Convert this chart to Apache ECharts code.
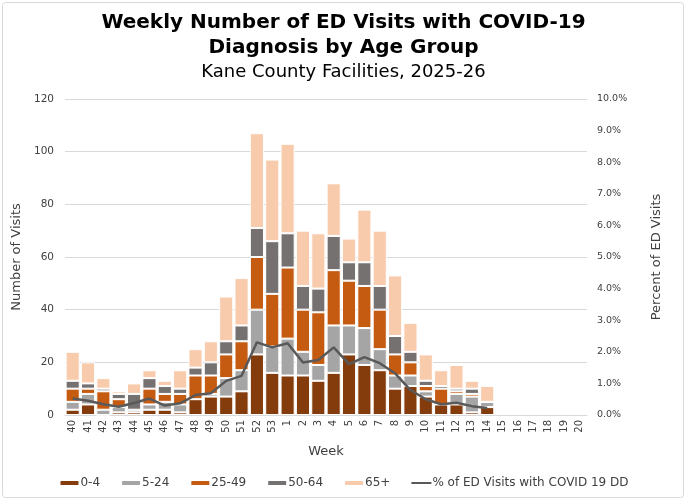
<!DOCTYPE html>
<html>
<head>
<meta charset="utf-8">
<script src="https://cdn.jsdelivr.net/npm/echarts@6/dist/echarts.min.js"></script>
<style>
  html, body { margin: 0; padding: 0; background: #fff; }
  #chart { width: 687px; height: 502px; }
</style>
</head>
<body>
<div id="chart"></div>
<script>
// weeks of the 2025-26 season
var weeks = ['40','41','42','43','44','45','46','47','48','49','50','51','52','53',
  '1','2','3','4','5','6','7','8','9','10','11','12','13','14','15','16','17','18','19','20'];

// visits by age group
var age0_4   = [2,4,0,1,1,2,2,1,6,7,7,9,23,16,15,15,13,16,23,19,17,10,11,7,4,4,1,3,null,null,null,null,null,null];
var age5_24  = [3,4,2,2,1,2,3,3,0,1,7,8,17,10,14,9,6,18,11,14,8,5,4,2,0,4,6,2,null,null,null,null,null,null];
var age25_49 = [5,2,7,3,0,6,3,4,9,7,9,11,20,20,27,16,20,21,17,16,15,8,5,2,6,1,1,0,null,null,null,null,null,null];
var age50_64 = [3,2,1,2,6,4,3,2,3,5,5,6,11,20,13,9,9,13,7,9,9,7,4,2,1,1,2,0,null,null,null,null,null,null];
var age65    = [11,8,4,1,4,3,2,7,7,8,17,18,36,31,34,21,21,20,9,20,21,23,11,10,6,9,3,6,null,null,null,null,null,null];

// % of ED visits with COVID 19 DD
var pctVisits = [0.52,0.45,0.34,0.26,0.38,0.52,0.30,0.37,0.63,0.69,1.08,1.24,2.30,2.14,
  2.27,1.66,1.74,2.14,1.61,1.83,1.64,1.32,0.79,0.50,0.34,0.39,0.28,0.22,null,null,null,null,null,null];

var lineName = '% of ED Visits with COVID 19 DD';
var font = 'DejaVu Sans';
var myChart = echarts.init(document.getElementById('chart'));

function barSeries(name, data, color) {
  return {
    name: name,
    type: 'bar',
    stack: 'age',
    data: data,
    barCategoryGap: '8%',
    itemStyle: { color: color, borderColor: '#fff', borderWidth: 1 }
  };
}

var option = {
  animation: false,
  textStyle: { fontFamily: font },
  graphic: [{
    type: 'rect',
    shape: { x: 2.5, y: 2.5, width: 681, height: 495, r: 3 },
    style: { fill: 'none', stroke: '#d9d9d9', lineWidth: 1 },
    silent: true
  }],
  title: {
    text: 'Weekly Number of ED Visits with COVID-19\nDiagnosis by Age Group',
    subtext: 'Kane County Facilities, 2025-26',
    left: 'center',
    top: 5,
    itemGap: 0,
    textStyle: { fontFamily: font, fontSize: 20, fontWeight: 'bold', color: '#000', lineHeight: 25 },
    subtextStyle: { fontFamily: font, fontSize: 18, color: '#000', lineHeight: 24 }
  },
  legend: {
    top: 472,
    left: 'center',
    itemWidth: 20,
    itemHeight: 6,
    itemGap: 20,
    textStyle: { fontFamily: font, fontSize: 12, color: '#404040', padding: [0, 0, 0, -4] },
    data: ['0-4', '5-24', '25-49', '50-64', '65+',
      { name: lineName, itemStyle: { opacity: 0 } }]
  },
  grid: { left: 65, right: 100, top: 99, bottom: 87 },
  xAxis: {
    type: 'category',
    data: weeks,
    name: 'Week',
    nameLocation: 'middle',
    nameGap: 30,
    nameTextStyle: { fontFamily: font, fontSize: 13, color: '#404040' },
    axisLine: { lineStyle: { color: '#d9d9d9' } },
    axisTick: { show: false },
    axisLabel: { interval: 0, rotate: 90, margin: 5, fontSize: 10, color: '#404040' }
  },
  yAxis: [{
    type: 'value',
    min: 0, max: 120, interval: 20,
    name: 'Number of Visits',
    nameLocation: 'middle',
    nameGap: 38,
    nameTextStyle: { fontFamily: font, fontSize: 13, color: '#404040' },
    axisLine: { show: false },
    axisTick: { show: false },
    axisLabel: { margin: 11, fontSize: 10.5, color: '#404040' },
    splitLine: { lineStyle: { color: '#d9d9d9' } }
  }, {
    type: 'value',
    min: 0, max: 10, interval: 1,
    name: 'Percent of ED Visits',
    nameLocation: 'middle',
    nameGap: 63,
    nameTextStyle: { fontFamily: font, fontSize: 13, color: '#404040' },
    axisLine: { show: false },
    axisTick: { show: false },
    axisLabel: { margin: 10, fontSize: 9.5, color: '#404040', formatter: function (v) { return v.toFixed(1) + '%'; } },
    splitLine: { show: false }
  }],
  series: [
    barSeries('0-4', age0_4, '#843c0c'),
    barSeries('5-24', age5_24, '#a5a5a5'),
    barSeries('25-49', age25_49, '#c55a11'),
    barSeries('50-64', age50_64, '#767171'),
    barSeries('65+', age65, '#f8cbad'),
    {
      name: lineName,
      type: 'line',
      yAxisIndex: 1,
      data: pctVisits,
      symbol: 'none',
      lineStyle: { color: '#595959', width: 2.5 },
      itemStyle: { color: '#595959' }
    }
  ]
};

myChart.setOption(option);
</script>
</body>
</html>
